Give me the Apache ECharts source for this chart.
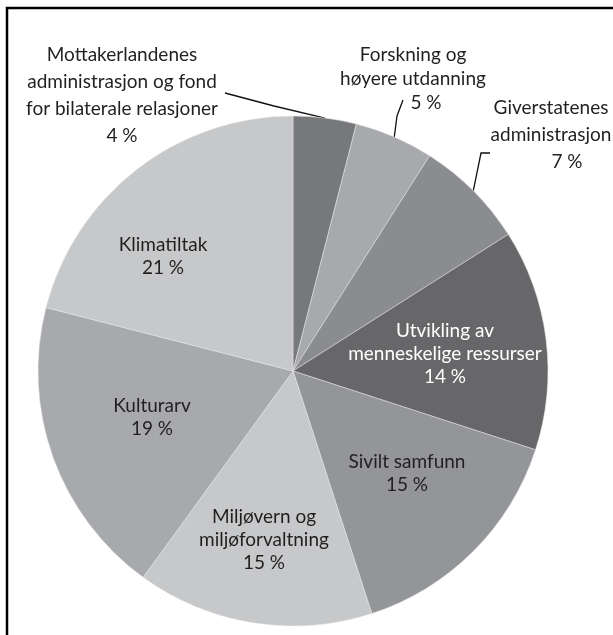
<!DOCTYPE html>
<html>
<head>
<meta charset="utf-8">
<script src="https://cdn.jsdelivr.net/npm/echarts@6/dist/echarts.min.js"></script>
<style>
  html, body { margin: 0; padding: 0; background: #fff; }
  #chart { width: 613px; height: 635px; }
</style>
</head>
<body>
<div id="chart"></div>
<script>
// andeler i prosent, med klokka fra kl. 12
var categories = [
	'Mottakerlandenes\nadministrasjon og fond\nfor bilaterale relasjoner',
	'Forskning og\nhøyere utdanning',
	'Giverstatenes\nadministrasjon',
	'Utvikling av\nmenneskelige ressurser',
	'Sivilt samfunn',
	'Miljøvern og\nmiljøforvaltning',
	'Kulturarv',
	'Klimatiltak'
];
var values = [4, 5, 7, 14, 15, 15, 19, 21];

var colors = ['#77787b', '#a7a9ac', '#8b8c8f', '#67676a', '#939598', '#c7c8ca', '#a7a9ac', '#c7c8ca'];
var textColors = ['#231f20', '#231f20', '#231f20', '#ffffff', '#231f20', '#231f20', '#231f20', '#231f20'];

// hvor etikettene står (midten av tekstblokken)
var labelAt = [[122, 95], [413, 79], [551, 135], [445, 354], [407, 473], [264, 540], [152, 417], [163, 256]];
var lineHeights = [27, 24, 27, 23, 23, 23, 23, 23];
// prosenttallet er flyttet litt mot høyre for noen av de ytre etikettene
var valueShift = [0, 26, 32, 0, 0, 0, 0, 0];
// knekkpunkt for linjene til de ytre etikettene
var lineEnd = [[[274, 106], [225, 93]], [[397, 116], [403, 100]], [[481, 153], [490, 153]]];

var pieData = [];
for (var i = 0; i < values.length; i++) {
	var outside = i < 3;
	pieData.push({
		name: categories[i],
		value: values[i],
		itemStyle: { color: colors[i] },
		label: {
			position: outside ? 'outside' : 'inside',
			color: textColors[i],
			lineHeight: lineHeights[i],
			rich: {
				shift: {
					fontFamily: 'Lato', fontSize: 19, color: textColors[i],
					lineHeight: lineHeights[i], padding: [0, 0, 0, valueShift[i]]
				}
			}
		},
		labelLine: { show: outside }
	});
}

var myChart = echarts.init(document.getElementById('chart'));
var option = {
	animation: false,
	backgroundColor: '#fff',
	graphic: [{
		type: 'rect',
		shape: { x: 7, y: 8, width: 640, height: 660 },
		style: { fill: 'none', stroke: '#000', lineWidth: 2.5 },
		silent: true
	}],
	series: [{
		type: 'pie',
		center: [293, 371],
		radius: 255,
		startAngle: 90,
		clockwise: true,
		data: pieData,
		itemStyle: { borderColor: '#e6e6e6', borderWidth: 0.5 },
		label: {
			show: true,
			formatter: function (p) {
				if (valueShift[p.dataIndex] > 0) {
					return p.name + '\n{shift|' + p.value + ' %}';
				}
				return p.name + '\n' + p.value + ' %';
			},
			fontFamily: 'Lato',
			fontSize: 19,
			align: 'center',
			overflow: 'none'
		},
		labelLine: {
			lineStyle: { color: '#111', width: 1.3 }
		},
		labelLayout: function (params) {
			var idx = params.dataIndex;
			var out = { x: labelAt[idx][0], y: labelAt[idx][1], align: 'center', verticalAlign: 'middle' };
			if (idx < 3 && params.labelLinePoints) {
				out.labelLinePoints = [params.labelLinePoints[0], lineEnd[idx][0], lineEnd[idx][1]];
			}
			return out;
		}
	}]
};
myChart.setOption(option);
</script>
</body>
</html>
